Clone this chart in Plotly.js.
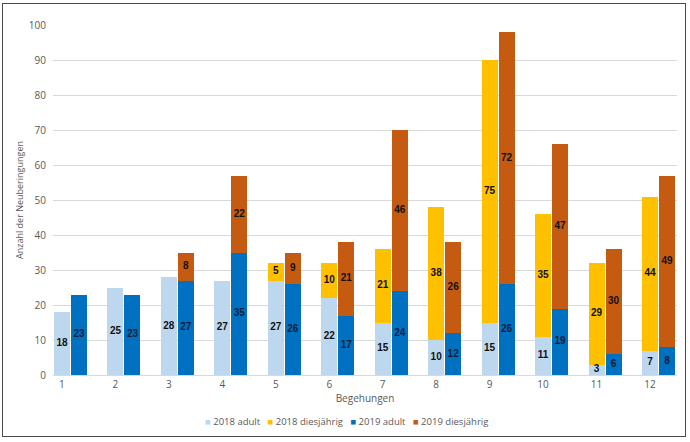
<!DOCTYPE html>
<html>
<head>
<meta charset="utf-8">
<script src="https://cdn.plot.ly/plotly-3.0.1.min.js"></script>
<style>
  html, body { margin: 0; padding: 0; background: #fff; }
  #wrap { position: relative; width: 690px; height: 442px; }
  #chart { position: absolute; left: 0; top: 0; width: 690px; height: 442px; }
  #frame { position: absolute; left: 2px; top: 3px; width: 682px; height: 432px; border: 1.5px solid #4a4a4a; pointer-events: none; }
</style>
</head>
<body>
<div id="wrap"><div id="chart"></div><div id="frame"></div></div>
<script>
const categories = ["1","2","3","4","5","6","7","8","9","10","11","12"];
const adult2018 = [18, 25, 28, 27, 27, 22, 15, 10, 15, 11, 3, 7];
const dies2018  = [0, 0, 0, 0, 5, 10, 21, 38, 75, 35, 29, 44];
const adult2019 = [23, 23, 27, 35, 26, 17, 24, 12, 26, 19, 6, 8];
const dies2019  = [0, 0, 8, 22, 9, 21, 46, 26, 72, 47, 30, 49];
const seriesNames = ['2018 adult', '2018 diesjährig', '2019 adult', '2019 diesjährig'];
const seriesColors = ['#BDD7EE', '#FFC000', '#0070C0', '#C55A11'];

const pos = categories.map((c, i) => i + 1);
const x2018 = pos.slice();
const x2019 = pos.map(v => v + 0.318);

function barTrace(name, x, y, color) {
  return { type: 'bar', name: name, x: x, y: y, width: 0.30,
    marker: { color: color }, hoverinfo: 'skip', showlegend: false };
}
function labelTrace(x, vals, base, color) {
  const xs = [], ys = [], ts = [];
  vals.forEach((v, i) => { if (v > 0) { xs.push(x[i]); ys.push(base[i] + v / 2); ts.push(String(v)); } });
  return { type: 'scatter', mode: 'text', x: xs, y: ys, text: ts, showlegend: false, hoverinfo: 'skip',
    textposition: 'middle center',
    textfont: { family: 'Liberation Sans, Arial, sans-serif', size: 10, color: color, weight: 'bold' } };
}
const zeros = pos.map(() => 0);

const traces = [
  barTrace(seriesNames[0], x2018, adult2018, seriesColors[0]),
  barTrace(seriesNames[1], x2018, dies2018, seriesColors[1]),
  barTrace(seriesNames[2], x2019, adult2019, seriesColors[2]),
  barTrace(seriesNames[3], x2019, dies2019, seriesColors[3]),
  labelTrace(x2018, adult2018, zeros, '#111111'),
  labelTrace(x2018, dies2018, adult2018, '#111111'),
  labelTrace(x2019, adult2019, zeros, '#0b1f3a'),
  labelTrace(x2019, dies2019, adult2019, '#111111')
];

const legendText = seriesNames.map((n, i) =>
  '<span style="color:' + seriesColors[i] + '">■</span> ' + n).join('&nbsp;&nbsp;&nbsp;');

const layout = {
  width: 690, height: 442,
  margin: { l: 53, r: 13, t: 25, b: 67 },
  barmode: 'relative',
  bargap: 0,
  paper_bgcolor: '#ffffff',
  plot_bgcolor: '#ffffff',
  font: { family: 'Open Sans, Liberation Sans, sans-serif', size: 10, color: '#595959' },
  xaxis: {
    range: [0.832, 12.505],
    tickvals: pos,
    ticktext: categories,
    showgrid: false,
    zeroline: false,
    showline: true,
    linecolor: '#d9d9d9',
    linewidth: 1,
    ticks: '',
    tickfont: { size: 10, color: '#595959' },
    title: { text: 'Begehungen', font: { size: 10, color: '#595959' }, standoff: 3 }
  },
  yaxis: {
    range: [0, 100],
    dtick: 10,
    showgrid: true,
    gridcolor: '#d9d9d9',
    gridwidth: 1,
    zeroline: false,
    showline: false,
    ticks: '',
    ticklabelstandoff: 6,
    tickfont: { size: 10, color: '#595959' },
    title: { text: 'Anzahl der Neuberingungen', font: { size: 9, color: '#595959' }, standoff: 3 }
  },
  showlegend: false,
  annotations: [{
    xref: 'paper', yref: 'paper',
    x: 0.47, y: -0.133, xanchor: 'center', yanchor: 'middle',
    showarrow: false,
    text: legendText,
    font: { size: 9.5, color: '#595959' }
  }]
};

Plotly.newPlot('chart', traces, layout, { displayModeBar: false, staticPlot: true });
</script>
</body>
</html>
